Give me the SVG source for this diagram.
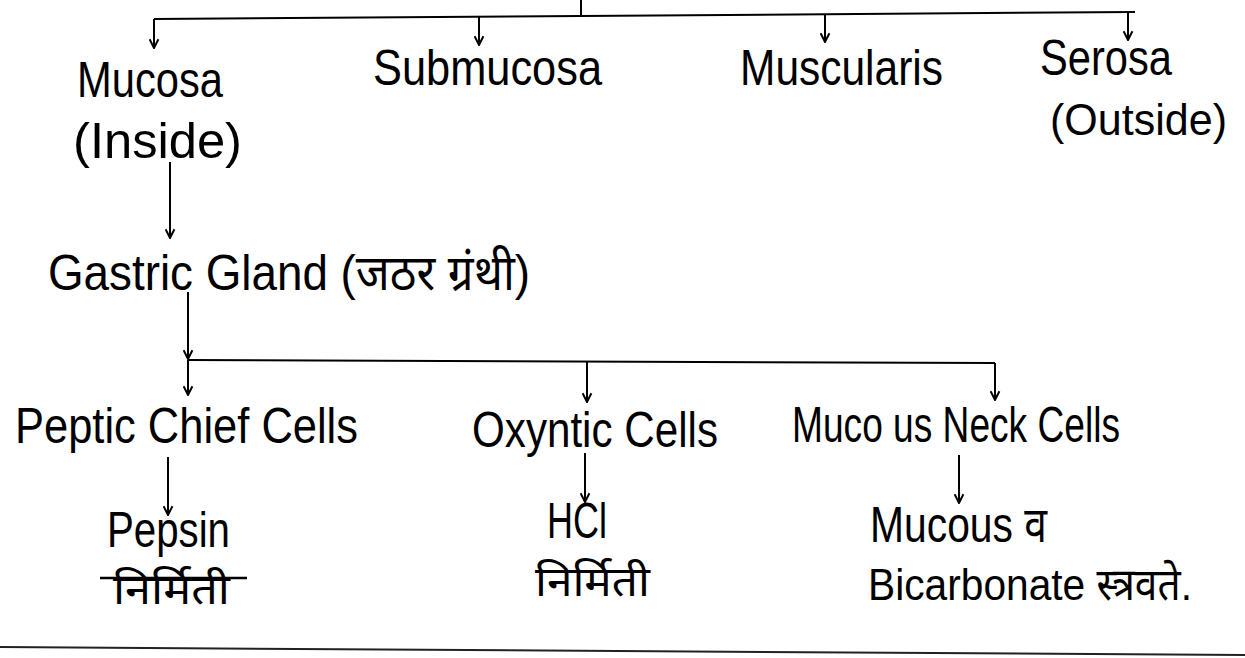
<svg xmlns="http://www.w3.org/2000/svg" width="1245" height="658" viewBox="0 0 1245 658">
<defs>
<style>
.t{font-family:"Liberation Sans","Noto Sans","Noto Sans CJK SC",sans-serif;fill:#000;font-size:50px;}
.s{font-size:45px;}
.d{font-family:"Noto Sans","Liberation Sans",sans-serif;fill:#000;font-size:42px;}
.c line{stroke:#000;stroke-width:2;fill:none;}
.c .a{marker-end:url(#ah);}
</style>
<marker id="ah" viewBox="0 0 10 10" refX="9" refY="5" markerWidth="11" markerHeight="11" markerUnits="userSpaceOnUse" orient="auto">
<path d="M1,1 L9,5 L1,9" fill="none" stroke="#000" stroke-width="1.8"/>
</marker>
</defs>
<rect width="1245" height="658" fill="#fff"/>
<g id="connectors" class="c">
<line x1="581" y1="0" x2="581" y2="17"/>
<line x1="154" y1="19" x2="1135" y2="12"/>
<line class="a" x1="154" y1="19" x2="154" y2="48"/>
<line class="a" x1="479" y1="17" x2="479" y2="45"/>
<line class="a" x1="825" y1="14" x2="825" y2="42"/>
<line class="a" x1="1128" y1="12" x2="1128" y2="40"/>
<line class="a" x1="170" y1="162" x2="170" y2="238"/>
<line class="a" x1="188" y1="292" x2="188" y2="359"/>
<line x1="188" y1="360" x2="995" y2="363"/>
<line class="a" x1="188" y1="360" x2="188" y2="395"/>
<line class="a" x1="587" y1="362" x2="587" y2="402"/>
<line class="a" x1="995" y1="363" x2="995" y2="400"/>
<line class="a" x1="168" y1="457" x2="168" y2="515"/>
<line class="a" x1="585" y1="453" x2="585" y2="502"/>
<line class="a" x1="959" y1="455" x2="959" y2="503"/>
</g>
<g id="mucosa"><text class="t" x="77" y="97" textLength="146" lengthAdjust="spacingAndGlyphs">Mucosa</text>
<text class="t" x="73" y="158" textLength="169" lengthAdjust="spacingAndGlyphs">(Inside)</text></g>
<g id="submucosa"><text class="t" x="373" y="85" textLength="229" lengthAdjust="spacingAndGlyphs">Submucosa</text></g>
<g id="muscularis"><text class="t" x="740" y="85" textLength="203" lengthAdjust="spacingAndGlyphs">Muscularis</text></g>
<g id="serosa"><text class="t" x="1040" y="75" textLength="132" lengthAdjust="spacingAndGlyphs">Serosa</text>
<text class="t s" x="1050" y="135" textLength="177" lengthAdjust="spacingAndGlyphs">(Outside)</text></g>
<g id="gastric-gland"><text class="t" x="48" y="290" textLength="482" lengthAdjust="spacingAndGlyphs">Gastric Gland (जठर ग्रंथी)</text></g>
<g id="peptic"><text class="t" x="15" y="443" textLength="343" lengthAdjust="spacingAndGlyphs">Peptic Chief Cells</text></g>
<g id="oxyntic"><text class="t" x="472" y="447" textLength="246" lengthAdjust="spacingAndGlyphs">Oxyntic Cells</text></g>
<g id="mucous-neck"><text class="t" x="792" y="442" textLength="328" lengthAdjust="spacingAndGlyphs">Muco us Neck Cells</text></g>
<g id="pepsin"><text class="t" x="107" y="547" textLength="123" lengthAdjust="spacingAndGlyphs">Pepsin</text>
<text class="d" x="113" y="604" textLength="117" lengthAdjust="spacingAndGlyphs">निर्मिती</text>
<line x1="100" y1="578" x2="247" y2="578" stroke="#000" stroke-width="2.5"/></g>
<g id="hcl"><text class="t" x="547" y="538" textLength="60" lengthAdjust="spacingAndGlyphs">HCl</text>
<text class="d" x="535" y="596" textLength="115" lengthAdjust="spacingAndGlyphs">निर्मिती</text></g>
<g id="mucous"><text class="t" x="870" y="542" textLength="177" lengthAdjust="spacingAndGlyphs">Mucous व</text>
<text class="t s" x="868" y="600" textLength="324" lengthAdjust="spacingAndGlyphs">Bicarbonate स्त्रवते.</text></g>
<line x1="0" y1="647" x2="1245" y2="655" stroke="#222" stroke-width="2"/>
</svg>
